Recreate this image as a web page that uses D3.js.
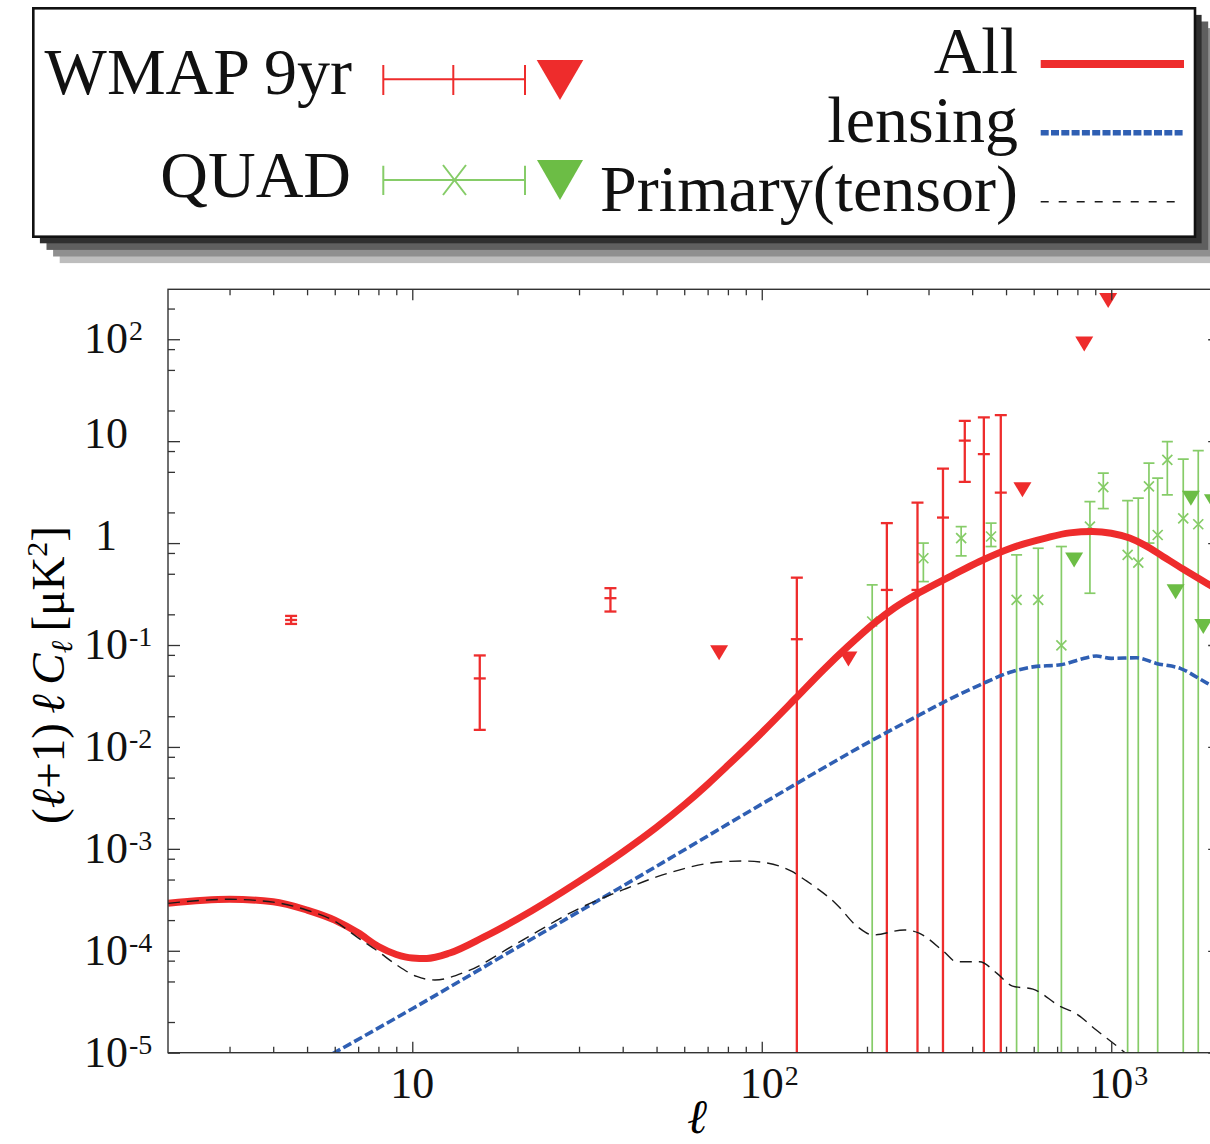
<!DOCTYPE html>
<html>
<head>
<meta charset="utf-8">
<script src="https://cdn.jsdelivr.net/npm/d3@7"></script>
<style>
  html, body { margin: 0; padding: 0; background: #fff; }
  svg { display: block; font-family: "Liberation Serif", "Times New Roman", serif; }
</style>
</head>
<body>
<div id="chart"></div>
<script>
// theory curves: "All" (total B-mode), lensing, primary (tensor)
const ellAll = [2, 3, 4, 5, 6, 7, 8, 9, 10, 11, 12.8, 16, 20, 30, 40, 50, 60, 70, 80, 100, 125, 150, 177, 208, 240, 282, 350, 420, 520, 649, 760, 884, 1000, 1129, 1250, 1405, 1600, 1885, 2050];
const clAll = [2.92e-4, 3.2e-4, 3.03e-4, 2.51e-4, 2.0e-4, 1.5e-4, 1.1e-4, 9.2e-5, 8.5e-5, 8.4e-5, 9.5e-5, 1.36e-4, 2.05e-4, 4.8e-4, 9.3e-4, 1.63e-3, 2.7e-3, 4.3e-3, 6.6e-3, 1.38e-2, 3.0e-2, 5.7e-2, 0.098, 0.160, 0.232, 0.325, 0.48, 0.66, 0.9, 1.12, 1.26, 1.30, 1.25, 1.12, 0.95, 0.74, 0.56, 0.40, 0.338];

const ellLens = [5.5, 10, 20, 50, 100, 204, 282, 335, 420, 522, 597, 717, 837, 906, 1000, 1180, 1346, 1575, 1885, 2050];
const clLens = [8.5e-6, 2.7e-5, 1.08e-4, 6.75e-4, 2.75e-3, 1.13e-2, 2.05e-2, 2.8e-2, 4.05e-2, 5.5e-2, 6.1e-2, 6.4e-2, 7.4e-2, 7.8e-2, 7.4e-2, 7.5e-2, 6.6e-2, 5.9e-2, 4.2e-2, 3.6e-2];

const ellTens = [2, 3, 4, 5, 6, 7, 8, 9, 10.3, 11.6, 14.2, 20, 30, 40, 50, 60, 70, 88, 100, 122, 133, 163, 188, 208, 256, 282, 332, 361, 420, 471, 522, 597, 717, 788, 906, 1095, 1300];
const clTens = [2.92e-4, 3.2e-4, 3.0e-4, 2.5e-4, 1.95e-4, 1.34e-4, 9.8e-5, 7.3e-5, 5.6e-5, 5.17e-5, 6.2e-5, 1.19e-4, 2.6e-4, 3.95e-4, 5.3e-4, 6.4e-4, 7.2e-4, 7.6e-4, 7.4e-4, 6.0e-4, 4.95e-4, 2.9e-4, 1.72e-4, 1.43e-4, 1.6e-4, 1.49e-4, 9.8e-5, 7.8e-5, 7.8e-5, 6.0e-5, 4.5e-5, 4.2e-5, 2.83e-5, 2.45e-5, 1.67e-5, 1.0e-5, 6e-6];

// WMAP 9yr band powers (null lower = error bar reaches below the axis)
const wmapEll = [4.5, 15.6, 36.9, 126, 228, 279, 330, 381, 432, 483];
const wmapCl = [0.176, 0.047, 0.288, 0.114, 0.347, 0.347, 1.78, 10.1, 7.45, 3.13];
const wmapLo = [0.161, 0.0147, 0.213, null, null, null, null, 3.99, null, null];
const wmapHi = [0.193, 0.079, 0.361, 0.458, 1.57, 2.50, 5.38, 15.8, 17.1, 18.0];
const wmapLimEll = [75.5, 177, 557, 837, 980];
const wmapLimCl = [0.084, 0.073, 3.33, 90, 240];

// QUAD band powers
const quadEll = [207, 290, 372, 453, 536, 618, 720, 869, 949, 1114, 1195, 1282, 1358, 1447, 1607, 1774];
const quadCl = [0.170, 0.71, 1.12, 1.16, 0.277, 0.277, 0.099, 1.45, 3.54, 0.766, 0.644, 3.6, 1.20, 6.55, 1.75, 1.53];
const quadLo = [null, 0.419, 0.749, 0.925, null, null, null, 0.322, 2.18, null, null, 1.0, null, 2.97, null, null];
const quadHi = [0.389, 1.0, 1.45, 1.57, 0.766, 0.89, 0.925, 2.55, 4.85, 2.61, 2.76, 6.1, 4.33, 9.9, 6.65, 8.09];
const quadLimEll = [783, 1528, 1690, 1834, 1954];
const quadLimCl = [0.684, 0.334, 2.76, 0.152, 2.55];

// axis ticks
const xMajor = [10, 100, 1000];
const xMajorSup = ['', '2', '3'];
const xMinor = [3, 4, 5, 6, 7, 8, 9, 20, 30, 40, 50, 60, 70, 80, 90, 200, 300, 400, 500, 600, 700, 800, 900, 2000];
const yMajor = [1e-5, 1e-4, 1e-3, 1e-2, 1e-1, 1, 10, 100];
const yMajorBase = ['10', '10', '10', '10', '10', '1', '10', '10'];
const yMajorSup = ['-5', '-4', '-3', '-2', '-1', '', '', '2'];
const yMinor = [2e-5, 5e-5, 8e-5, 2e-4, 5e-4, 8e-4, 2e-3, 5e-3, 8e-3, 2e-2, 5e-2, 8e-2, 0.2, 0.5, 0.8, 2, 5, 8, 20, 50, 80, 200];

const RED = '#ee2c2c', GREEN_BAR = '#86cc68', GREEN = '#6cbd45', BLUE = '#2f5fb3', BLACK = '#1a1a1a';

const W = 1210, H = 1144;
const plot = { left: 168, right: 1220.2, top: 289.3, bottom: 1052.7 };

const svg = d3.select('#chart').append('svg').attr('width', W).attr('height', H);

const x = d3.scaleLog().domain([2, 2050]).range([plot.left, plot.right]);
const y = d3.scaleLog().domain([1e-5, 309]).range([plot.bottom, plot.top]);

svg.append('defs').append('clipPath').attr('id', 'clip')
  .append('rect')
  .attr('x', plot.left).attr('y', plot.top)
  .attr('width', plot.right - plot.left).attr('height', plot.bottom - plot.top);

const inner = svg.append('g').attr('clip-path', 'url(#clip)');

// error bars
function errorBars(ells, cls, los, his, opt) {
  const g = inner.append('g');
  ells.forEach((l, i) => {
    const cx = x(l);
    const yHi = y(his[i]);
    const yLo = los[i] == null ? plot.bottom + 5 : y(los[i]);
    g.append('line').attr('x1', cx).attr('x2', cx).attr('y1', yHi).attr('y2', yLo)
      .attr('stroke', opt.color).attr('stroke-width', opt.width);
    const caps = los[i] == null ? [yHi] : [yHi, yLo];
    caps.forEach(cy => {
      g.append('line').attr('x1', cx - opt.cap).attr('x2', cx + opt.cap).attr('y1', cy).attr('y2', cy)
        .attr('stroke', opt.color).attr('stroke-width', opt.width);
    });
    const my = y(cls[i]);
    if (opt.cross) {
      const s = opt.cross;
      g.append('path')
        .attr('d', `M${cx - s},${my - s}L${cx + s},${my + s}M${cx - s},${my + s}L${cx + s},${my - s}`)
        .attr('stroke', opt.color).attr('stroke-width', opt.width);
    } else {
      g.append('line').attr('x1', cx - opt.cap).attr('x2', cx + opt.cap).attr('y1', my).attr('y2', my)
        .attr('stroke', opt.color).attr('stroke-width', opt.width);
    }
  });
}

function limits(ells, cls, color) {
  inner.append('g').selectAll('path').data(ells).enter().append('path')
    .attr('d', (l, i) => {
      const cx = x(l), cy = y(cls[i]);
      return `M${cx - 9},${cy - 7.5}L${cx + 9},${cy - 7.5}L${cx},${cy + 7.5}Z`;
    })
    .attr('fill', color);
}

errorBars(quadEll, quadCl, quadLo, quadHi, { color: GREEN_BAR, width: 1.7, cap: 5.5, cross: 5 });
errorBars(wmapEll, wmapCl, wmapLo, wmapHi, { color: RED, width: 2.3, cap: 6 });
limits(wmapLimEll, wmapLimCl, RED);
limits(quadLimEll, quadLimCl, GREEN);

// curves
const line = d3.line().x(d => x(d[0])).y(d => y(d[1])).curve(d3.curveMonotoneX);

inner.append('path').datum(d3.zip(ellAll, clAll))
  .attr('d', line).attr('fill', 'none').attr('stroke', RED).attr('stroke-width', 7);
inner.append('path').datum(d3.zip(ellLens, clLens))
  .attr('d', line).attr('fill', 'none').attr('stroke', BLUE).attr('stroke-width', 3.6)
  .attr('stroke-dasharray', '9,3.5');
inner.append('path').datum(d3.zip(ellTens, clTens))
  .attr('d', line).attr('fill', 'none').attr('stroke', BLACK).attr('stroke-width', 1.4)
  .attr('stroke-dasharray', '12,7');

// axes: ticks pointing inward on all four sides
function tickAxis(axisFn, scale, values, size, transform) {
  const g = svg.append('g').attr('transform', transform)
    .call(axisFn(scale).tickValues(values).tickSizeInner(-size).tickSizeOuter(0).tickFormat(''));
  g.select('.domain').remove();
  g.selectAll('line').attr('stroke', '#333').attr('stroke-width', 1.3);
}
tickAxis(d3.axisBottom, x, xMajor, 11, `translate(0,${plot.bottom})`);
tickAxis(d3.axisBottom, x, xMinor, 6, `translate(0,${plot.bottom})`);
tickAxis(d3.axisTop, x, xMajor, 11, `translate(0,${plot.top})`);
tickAxis(d3.axisTop, x, xMinor, 6, `translate(0,${plot.top})`);
tickAxis(d3.axisLeft, y, yMajor, 12, `translate(${plot.left},0)`);
tickAxis(d3.axisLeft, y, yMinor, 7, `translate(${plot.left},0)`);
tickAxis(d3.axisRight, y, yMajor, 12, `translate(${plot.right},0)`);
tickAxis(d3.axisRight, y, yMinor, 7, `translate(${plot.right},0)`);

svg.append('rect')
  .attr('x', plot.left).attr('y', plot.top)
  .attr('width', plot.right - plot.left).attr('height', plot.bottom - plot.top)
  .attr('fill', 'none').attr('stroke', '#333').attr('stroke-width', 1.4);

// tick labels with superscripts
function powLabel(cx, by, base, sup) {
  const t = svg.append('text').attr('x', cx).attr('y', by)
    .attr('text-anchor', 'middle').attr('font-size', 44).attr('fill', '#111').text(base);
  if (sup) {
    const w = t.node().getComputedTextLength();
    svg.append('text').attr('x', cx + w / 2 + 1).attr('y', by - 13)
      .attr('font-size', 28).attr('fill', '#111').text(sup);
  }
}
xMajor.forEach((v, i) => powLabel(x(v), 1098, '10', xMajorSup[i]));
yMajor.forEach((v, i) => powLabel(106, y(v) + (yMajorSup[i] ? 14 : 7), yMajorBase[i], yMajorSup[i]));

// axis titles
svg.append('text').attr('x', 697).attr('y', 1133).attr('text-anchor', 'middle')
  .attr('font-size', 48).attr('font-style', 'italic').text('ℓ');

const yt = svg.append('text')
  .attr('transform', 'translate(64,675) rotate(-90)')
  .attr('text-anchor', 'middle').attr('font-size', 47);
yt.append('tspan').text('(');
yt.append('tspan').attr('font-style', 'italic').text('ℓ');
yt.append('tspan').text('+1)\u2009');
yt.append('tspan').attr('font-style', 'italic').text('ℓ\u2009C');
yt.append('tspan').attr('font-style', 'italic').attr('font-size', 30).attr('dy', 8).text('ℓ');
yt.append('tspan').attr('dy', -8).text('\u2009[μK');
yt.append('tspan').attr('font-size', 30).attr('dy', -17).text('2');
yt.append('tspan').attr('dy', 17).text(']');

// legend box with stepped shadow
const box = { x: 33.3, y: 8.3, w: 1161.7, h: 228.4 };
const shadowCols = ['#2f2f2f', '#5f5f5f', '#8f8f8f', '#bdbdbd'];
for (let k = 4; k >= 1; k--) {
  svg.append('rect')
    .attr('x', box.x + 6.6 * k).attr('y', box.y + 6.6 * k)
    .attr('width', box.w).attr('height', box.h)
    .attr('fill', shadowCols[k - 1]);
}
svg.append('rect')
  .attr('x', box.x).attr('y', box.y).attr('width', box.w).attr('height', box.h)
  .attr('fill', '#fff').attr('stroke', '#111').attr('stroke-width', 2.6);

const lg = svg.append('g').attr('font-size', 66).attr('fill', '#111');
lg.append('text').attr('x', 352).attr('y', 94).attr('text-anchor', 'end').text('WMAP 9yr');
lg.append('text').attr('x', 351).attr('y', 197).attr('text-anchor', 'end').text('QUAD');
lg.append('text').attr('x', 1018).attr('y', 73).attr('text-anchor', 'end').text('All');
lg.append('text').attr('x', 1018).attr('y', 142).attr('text-anchor', 'end').text('lensing');
lg.append('text').attr('x', 1018).attr('y', 211).attr('text-anchor', 'end').text('Primary(tensor)');

// legend: WMAP symbol
lg.append('path')
  .attr('d', 'M383.3,79.3L525,79.3M383.3,65L383.3,95M453.3,65L453.3,95M525,65L525,95')
  .attr('stroke', RED).attr('stroke-width', 2).attr('fill', 'none');
lg.append('path').attr('d', 'M536.7,60L583.3,60L560,100Z').attr('fill', RED);
// legend: QUAD symbol
lg.append('path')
  .attr('d', 'M383.3,180L525,180M383.3,165.7L383.3,195M525,165.7L525,195M443,165L466,195M443,195L466,165')
  .attr('stroke', GREEN_BAR).attr('stroke-width', 2).attr('fill', 'none');
lg.append('path').attr('d', 'M537,160L583,160L560,200Z').attr('fill', GREEN);
// legend: curves
lg.append('line').attr('x1', 1040.7).attr('x2', 1184).attr('y1', 64).attr('y2', 64)
  .attr('stroke', RED).attr('stroke-width', 8);
lg.append('line').attr('x1', 1040.7).attr('x2', 1184).attr('y1', 132.7).attr('y2', 132.7)
  .attr('stroke', BLUE).attr('stroke-width', 5.5).attr('stroke-dasharray', '8,2.3');
lg.append('line').attr('x1', 1040.7).attr('x2', 1184).attr('y1', 201.7).attr('y2', 201.7)
  .attr('stroke', BLACK).attr('stroke-width', 1.5).attr('stroke-dasharray', '8,10');
</script>
</body>
</html>
